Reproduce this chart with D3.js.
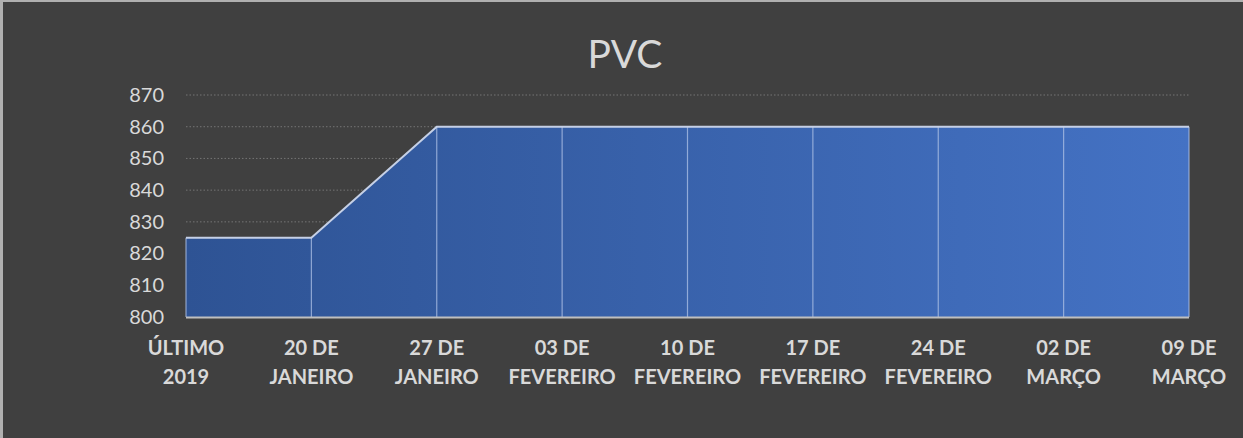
<!DOCTYPE html>
<html><head><meta charset="utf-8">
<script src="https://cdn.jsdelivr.net/npm/d3@7"></script>
<style>html,body{margin:0;padding:0;background:#404040;}svg{display:block;}</style>
</head><body>
<svg id="chart" width="1243" height="438"></svg>
<script>
const categories = [["ÚLTIMO","2019"],["20 DE","JANEIRO"],["27 DE","JANEIRO"],["03 DE","FEVEREIRO"],["10 DE","FEVEREIRO"],["17 DE","FEVEREIRO"],["24 DE","FEVEREIRO"],["02 DE","MARÇO"],["09 DE","MARÇO"]];
const values = [825, 825, 860, 860, 860, 860, 860, 860, 860];
const yTicks = [800, 810, 820, 830, 840, 850, 860, 870];
const title = "PVC";

const W = 1243, H = 438;
const svg = d3.select("#chart");
const font = "Lato, 'Open Sans', sans-serif";

svg.append("rect").attr("width", W).attr("height", H).attr("fill", "#404040");
svg.append("rect").attr("x",0).attr("y",0).attr("width",W).attr("height",2).attr("fill","#b0b0b0");
svg.append("rect").attr("x",0).attr("y",0).attr("width",3).attr("height",H).attr("fill","#b0b0b0");

const x = d3.scalePoint().domain(d3.range(categories.length)).range([186, 1189]);
const y = d3.scaleLinear().domain([800, 870]).range([317, 95]);

svg.append("g").selectAll("line").data(yTicks.filter(t => t > 800)).join("line")
  .attr("x1", 186).attr("x2", 1189)
  .attr("y1", d => y(d)).attr("y2", d => y(d))
  .attr("stroke", "#747474").attr("stroke-width", 1).attr("stroke-dasharray", "1.5,2");

const defs = svg.append("defs");
const grad = defs.append("linearGradient").attr("id","g").attr("x1","0").attr("x2","1").attr("y1","0").attr("y2","0");
grad.append("stop").attr("offset","0%").attr("stop-color","#2e5394");
grad.append("stop").attr("offset","100%").attr("stop-color","#4472c4");

const area = d3.area().x((d,i) => x(i)).y0(y(800)).y1(d => y(d));
svg.append("path").datum(values).attr("d", area).attr("fill","url(#g)");

svg.append("g").selectAll("line").data(values).join("line")
  .attr("x1",(d,i)=>x(i)).attr("x2",(d,i)=>x(i))
  .attr("y1", d=>y(d)).attr("y2", y(800))
  .attr("stroke","#a9bde3").attr("stroke-width",1.2).attr("opacity",0.8);

const line = d3.line().x((d,i)=>x(i)).y(d=>y(d));
svg.append("path").datum(values).attr("d", line).attr("fill","none")
  .attr("stroke","#c5d0e6").attr("stroke-width",2);

svg.append("line").attr("x1",186).attr("x2",1189).attr("y1",y(800)+0.5).attr("y2",y(800)+0.5)
  .attr("stroke","#bfbfbf").attr("stroke-width",2);

const yAxis = d3.axisLeft(y).tickValues(yTicks).tickSize(0).tickPadding(0);
const gy = svg.append("g").attr("transform","translate(164,0)").call(yAxis);
gy.select(".domain").remove();
gy.selectAll("text").attr("fill","#d9d9d9").attr("font-size","20px").attr("font-family",font);

const gx = svg.append("g");
categories.forEach((c,i) => {
  const t = gx.append("text").attr("x", x(i)).attr("y", 355).attr("text-anchor","middle")
    .attr("fill","#d9d9d9").attr("font-size","20px").attr("font-weight","bold").attr("font-family",font);
  t.append("tspan").attr("x", x(i)).attr("dy",0).text(c[0]);
  t.append("tspan").attr("x", x(i)).attr("dy","29").text(c[1]);
});

svg.append("text").attr("x", 625).attr("y", 68).attr("text-anchor","middle")
  .attr("fill","#d9d9d9").attr("font-size","39px").attr("font-family",font).text(title);
</script>
</body></html>
